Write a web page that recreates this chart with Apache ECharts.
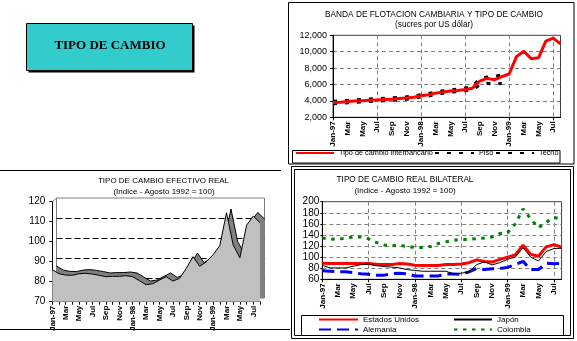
<!DOCTYPE html>
<html><head><meta charset="utf-8">
<script src="https://cdn.jsdelivr.net/npm/echarts@6/dist/echarts.min.js"></script>
<style>html,body{margin:0;padding:0;background:#fff}#c{width:577px;height:341px}</style>
</head><body><div id="c"></div>
<script>
// ---- categories ----
const months = ['Jan-97','Feb-97','Mar-97','Apr-97','May-97','Jun-97','Jul-97','Aug-97','Sep-97','Oct-97','Nov-97','Dec-97',
  'Jan-98','Feb-98','Mar-98','Apr-98','May-98','Jun-98','Jul-98','Aug-98','Sep-98','Oct-98','Nov-98','Dec-98',
  'Jan-99','Feb-99','Mar-99','Apr-99','May-99','Jun-99','Jul-99','Aug-99'];

// ---- Banda de flotación (sucres por US dólar) ----
const interbancario = [3800,3850,3920,3980,4030,4080,4120,4160,4200,4280,4350,4450,
  4620,4750,4950,5080,5200,5280,5400,5550,6400,6750,6580,6950,
  7280,9400,10050,9150,9250,11300,11650,10950];
const techo = [3950,4000,4060,4120,4180,4230,4280,4330,4380,4440,4500,4600,
  4760,4900,5100,5230,5350,5430,5560,5750,6750,6900,6950,7200,
  null,null,null,null,null,null,null,null];
const piso = [3650,3700,3760,3820,3880,3930,3980,4020,4060,4120,4200,4300,
  4480,4600,4800,4930,5050,5130,5250,5350,5950,6150,6000,6150,
  null,null,null,null,null,null,null,null];

// ---- Tipo de cambio efectivo real ----
const tcer = [86,84,83.3,83.2,84,84.2,83.8,83.2,82.5,82.7,82.7,83,
  82.5,80.5,78.5,79,80.8,82.5,80.3,81.7,86.7,92.5,87.7,90,
  93.5,98,114.5,98.3,92,108.3,112.8,109.5];

// ---- Tipo de cambio real bilateral ----
const estadosUnidos = [89,88.5,88.5,88.5,88.5,88.5,88.5,87,86.5,86.5,88.5,87.5,
  85.5,85,85,85,86.5,86.5,87.5,90,95,92,91,96,
  100,104,121.5,105,101.5,118.5,122.5,118];
const japon = [85,80.5,80.5,80.5,83.5,86.5,87.5,84.5,83,82,80.5,77.5,
  76,74.5,74.5,74.5,74.5,70,71,73.5,86.5,91.5,86,90,
  96,100,117,100,93,110,115.5,116];
const alemania = [75.5,74.5,73.5,73.5,72,70,69,67.5,67.5,70,71,70,
  66,66,66,66,69.5,69.5,69,73.5,79.5,77.5,79,79.5,
  81.5,86.5,92.5,77.5,77.5,89,88,89];
const colombia = [134.5,132,133,133.5,136.5,136.5,133,126.5,122,120.5,121.5,119,
  117.5,117.5,119,124.5,127.5,130.5,132,132,133.5,134.5,136.5,142.5,
  144,160,187,169,153,163,171.5,169];

const F = '"Liberation Sans", Arial, sans-serif';
function xFmt(v){ return v.indexOf('Jan') === 0 ? v : v.slice(0,3); }
const xLab = {interval: 1, rotate: 90, fontSize: 8, fontWeight: 'bold', fontFamily: F, color: '#000', margin: 4, formatter: xFmt};

function catAxis(gi, extra){
  return Object.assign({
    gridIndex: gi, type: 'category', data: months, boundaryGap: false,
    axisLine: {show: true, lineStyle: {color: '#000', width: 1}},
    axisTick: {show: true, interval: 5, length: 3, lineStyle: {color: '#000'}},
    axisLabel: xLab,
    splitLine: {show: true, interval: 5, lineStyle: {color: '#808080', type: [4,3], width: 1}}
  }, extra || {});
}

function leg(name, left, top, w, fs){
  return {data: [name], left: left, top: top, padding: 0, itemGap: 0, itemWidth: w, itemHeight: 8,
    selectedMode: false, itemStyle: {opacity: 0},
    textStyle: {fontSize: fs, fontFamily: F, color: '#000'}};
}
function ttl(text, cx, top, fs, extra){
  return Object.assign({text: text, left: cx, top: top, textAlign: 'center', padding: 0,
    textStyle: {fontSize: fs, fontWeight: 'normal', fontFamily: F, color: '#000'}}, extra || {});
}

const chart = echarts.init(document.getElementById('c'));
chart.setOption({
  animation: false,
  backgroundColor: '#fff',
  title: [
    ttl('BANDA DE FLOTACION CAMBIARIA Y TIPO DE CAMBIO', 434, 10.5, 8.3),
    ttl('(sucres por US dólar)', 434, 20.7, 8.2),
    ttl('TIPO DE CAMBIO EFECTIVO REAL', 163.5, 176.8, 8),
    ttl('(Indice - Agosto 1992 = 100)', 164, 187.5, 8),
    ttl('TIPO DE CAMBIO REAL BILATERAL', 405, 175.8, 8.2),
    ttl('(Indice - Agosto 1992 = 100)', 405, 186.5, 8),
    {text: 'TIPO DE CAMBIO', left: 110, top: 39.5, textAlign: 'center', padding: 0, z: 20,
     textStyle: {fontSize: 13, fontWeight: 'bold', fontFamily: '"Liberation Serif", "Times New Roman", serif', color: '#000'}}
  ],
  legend: [
    leg('Tipo de cambio interbancario', 295, 149.5, 38, 7.3),
    leg('Piso', 434, 149.5, 39, 7.3),
    leg('Techo', 495, 149.5, 38, 7.3),
    leg('Estados Unidos', 318, 315.5, 39, 8),
    leg('Japón', 453, 315.5, 38, 8),
    leg('Alemania', 318, 325.5, 39, 8),
    leg('Colombia', 453, 325.5, 38, 8)
  ],
  grid: [
    {left: 333, top: 35.3, right: 16.5, bottom: 223.7, show: true, borderColor: '#404040', borderWidth: 1},
    {left: 52.3, top: 201.7, right: 317, bottom: 39.3},
    {left: 322.3, top: 201.7, right: 15.4, bottom: 61.7, show: true, borderColor: '#404040', borderWidth: 1},
    {left: 56.5, top: 198, right: 312.5, bottom: 43, show: true, borderColor: '#808080', borderWidth: 1}
  ],
  xAxis: [
    catAxis(0),
    catAxis(1, {axisTick: {show: true, interval: 0, length: 3, lineStyle: {color: '#000'}},
                axisLabel: Object.assign({}, xLab, {margin: 4}),
                splitLine: {show: false}}),
    catAxis(2),
    catAxis(3, {axisLine: {show: false}, axisTick: {show: false}, axisLabel: {show: false}, splitLine: {show: false}})
  ],
  yAxis: [
    {gridIndex: 0, type: 'value', min: 2000, max: 12000, interval: 2000,
     axisLine: {show: true, lineStyle: {color: '#000'}}, axisTick: {show: true, length: 3, lineStyle: {color: '#000'}},
     axisLabel: {fontSize: 9, fontFamily: F, color: '#000', margin: 6, formatter: v => v.toLocaleString('en-US')},
     splitLine: {show: true, showMaxLine: false, showMinLine: false, lineStyle: {color: '#808080', type: [4,3]}}},
    {gridIndex: 1, type: 'value', min: 70, max: 120, interval: 10,
     axisLine: {show: true, lineStyle: {color: '#000'}}, axisTick: {show: true, length: 3, lineStyle: {color: '#000'}},
     axisLabel: {fontSize: 10, fontFamily: F, color: '#000', margin: 7},
     splitLine: {show: false}},
    {gridIndex: 2, type: 'value', min: 60, max: 200, interval: 20,
     axisLine: {show: true, lineStyle: {color: '#000'}}, axisTick: {show: true, length: 2, lineStyle: {color: '#000'}},
     axisLabel: {fontSize: 10, fontFamily: F, color: '#000', margin: 3},
     splitLine: {show: true, showMaxLine: false, showMinLine: false, lineStyle: {color: '#808080', type: [4,3]}}},
    {gridIndex: 3, type: 'value', min: 70, max: 120, interval: 10,
     axisLine: {show: false}, axisTick: {show: false}, axisLabel: {show: false},
     splitLine: {show: true, showMaxLine: false, showMinLine: false, lineStyle: {color: '#000', type: [6,3]}}}
  ],
  series: [
    {name: 'Techo', type: 'line', xAxisIndex: 0, yAxisIndex: 0, data: techo, symbol: 'none',
     lineStyle: {color: '#000', width: 3, type: [4,8]}, itemStyle: {color: '#000'}, z: 3},
    {name: 'Piso', type: 'line', xAxisIndex: 0, yAxisIndex: 0, data: piso, symbol: 'none',
     lineStyle: {color: '#000', width: 3, type: [4,8]}, itemStyle: {color: '#000'}, z: 3},
    {name: 'Tipo de cambio interbancario', type: 'line', xAxisIndex: 0, yAxisIndex: 0, data: interbancario, symbol: 'none',
     lineStyle: {color: '#ff0000', width: 3}, itemStyle: {color: '#ff0000'}, z: 4},

    {name: 'TCER fondo', type: 'line', xAxisIndex: 3, yAxisIndex: 3, data: tcer, symbol: 'none', silent: true,
     lineStyle: {color: '#000', width: 1}, areaStyle: {color: '#808080', opacity: 1, origin: 'start'}, z: 2},
    {name: 'TCER', type: 'line', xAxisIndex: 1, yAxisIndex: 1, data: tcer, symbol: 'none', silent: true,
     lineStyle: {color: '#000', width: 1}, areaStyle: {color: '#c0c0c0', opacity: 1, origin: 'start'}, z: 3},

    {name: 'Colombia', type: 'line', xAxisIndex: 2, yAxisIndex: 2, data: colombia, symbol: 'none',
     lineStyle: {color: '#008000', width: 3, type: [3.5,5.5]}, itemStyle: {color: '#008000'}, z: 3},
    {name: 'Alemania', type: 'line', xAxisIndex: 2, yAxisIndex: 2, data: alemania, symbol: 'none',
     lineStyle: {color: '#0000ff', width: 3, type: [12,6]}, itemStyle: {color: '#0000ff'}, z: 3},
    {name: 'Japón', type: 'line', xAxisIndex: 2, yAxisIndex: 2, data: japon, symbol: 'none',
     lineStyle: {color: '#000', width: 1}, itemStyle: {color: '#000'}, z: 4},
    {name: 'Estados Unidos', type: 'line', xAxisIndex: 2, yAxisIndex: 2, data: estadosUnidos, symbol: 'none',
     lineStyle: {color: '#ff0000', width: 3}, itemStyle: {color: '#ff0000'}, z: 3}
  ],
  graphic: [
    {type: 'rect', shape: {x: 28.5, y: 25.5, width: 166, height: 47}, style: {fill: '#000'}, z: 10},
    {type: 'rect', shape: {x: 26.5, y: 23.5, width: 166, height: 47}, style: {fill: '#33cccc', stroke: '#000', lineWidth: 1}, z: 11},
    {type: 'rect', shape: {x: 288.5, y: 2.5, width: 285.5, height: 161.5}, style: {fill: 'none', stroke: '#000', lineWidth: 1}, z: 50},
    {type: 'rect', shape: {x: 292.5, y: 150.5, width: 267.5, height: 12.5}, style: {fill: 'none', stroke: '#000', lineWidth: 1}, z: 50},
    {type: 'rect', shape: {x: 291.5, y: 166.5, width: 282, height: 172}, style: {fill: 'none', stroke: '#000', lineWidth: 1}, z: 50},
    {type: 'rect', shape: {x: 294.5, y: 169.5, width: 276, height: 166}, style: {fill: 'none', stroke: '#000', lineWidth: 1}, z: 50},
    {type: 'rect', shape: {x: 301.5, y: 315.5, width: 262, height: 20}, style: {fill: 'none', stroke: '#000', lineWidth: 1}, z: 50},
    {type: 'line', shape: {x1: 0, y1: 170.5, x2: 281, y2: 170.5}, style: {stroke: '#000', lineWidth: 1}, z: 50},
    {type: 'line', shape: {x1: 0, y1: 329.5, x2: 290, y2: 329.5}, style: {stroke: '#000', lineWidth: 1}, z: 50},
    {type: 'line', shape: {x1: 52.3, y1: 201.7, x2: 56.5, y2: 198}, style: {stroke: '#808080', lineWidth: 1}, z: 50}
  ]
});
</script></body></html>
